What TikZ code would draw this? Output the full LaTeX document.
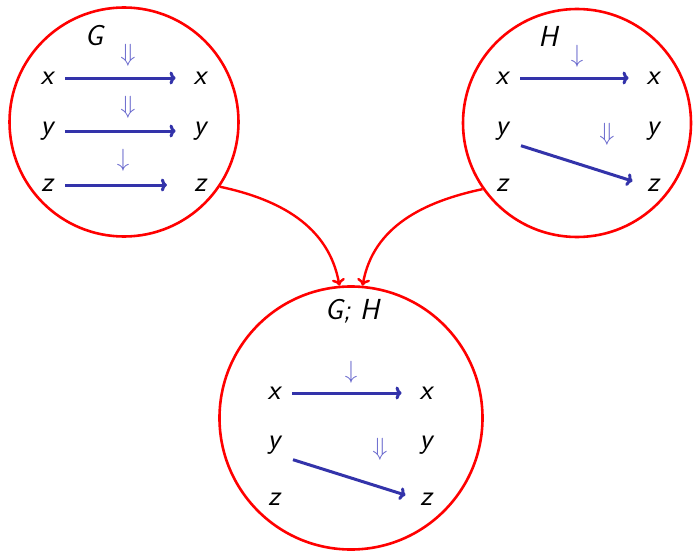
\documentclass[tikz,border=0pt]{standalone}
\usetikzlibrary{arrows.meta}
\definecolor{arrblue}{HTML}{3333AA}
\definecolor{dblue}{HTML}{6666CC}
\tikzset{
  lbl/.style={font=\fontsize{29}{32}\selectfont\sffamily\itshape, inner sep=2pt, anchor=center},
  ttl/.style={font=\fontsize{29}{32}\selectfont\sffamily\itshape, inner sep=2pt},
  bubble/.style={draw=red, circle, line width=2.6pt, inner sep=0pt},
  edge/.style={draw=arrblue, line width=3pt, -{To[length=6pt,width=13pt]}},
  link/.style={draw=red, line width=2.4pt, -{To[length=7pt,width=13pt]}},
  cell/.style={text=dblue, font=\fontsize{35}{38}\selectfont, inner sep=0pt},
}
\begin{document}
\begin{tikzpicture}[x=1pt,y=-1pt]
\useasboundingbox (0,0) rectangle (693,551);
% bubbles
\node[bubble, minimum size=229pt] (g) at (124,122) {};
\node[bubble, minimum size=228pt] (h) at (577,123) {};
\node[bubble, minimum size=263pt] (gh) at (351,418) {};
% G
\node[ttl] (gt) at (94,36) {G};
\node[lbl] (gx1) at (47,78) {x};
\node[lbl] (gx2) at (200,78) {x};
\node[lbl] (gy1) at (47,131) {y};
\node[lbl] (gy2) at (200,131) {y};
\node[lbl] (gz1) at (47,185) {z};
\node[lbl] (gz2) at (200,185) {z};
\draw[edge, shorten <=10pt, shorten >=16pt] (gx1.east) -- (gx2.west);
\draw[edge, shorten <=10pt, shorten >=16pt] (gy1.east) -- (gy2.west);
\draw[edge, shorten <=10pt, shorten >=25pt] (gz1.east) -- (gz2.west);
\node[cell] (gc1) at (128,55) {$\Downarrow$};
\node[cell] (gc2) at (128,107) {$\Downarrow$};
\node[cell] (gc3) at (123,160) {$\downarrow$};
% H
\node[ttl] (ht) at (548,36) {H};
\node[lbl] (hx1) at (502,78) {x};
\node[lbl] (hx2) at (653,78) {x};
\node[lbl] (hy1) at (502,131) {y};
\node[lbl] (hy2) at (653,131) {y};
\node[lbl] (hz1) at (502,185) {z};
\node[lbl] (hz2) at (653,185) {z};
\draw[edge, shorten <=10pt, shorten >=16pt] (hx1.east) -- (hx2.west);
\draw[edge, shorten <=11pt, shorten >=13pt] (hy1.south east) -- (hz2.west);
\node[cell] (hc1) at (577,56) {$\downarrow$};
\node[cell] (hc2) at (607,134) {$\Downarrow$};
% G;H
\node[ttl] (ght) at (352,311) {G; H};
\node[lbl] (kx1) at (274,393) {x};
\node[lbl] (kx2) at (426,393) {x};
\node[lbl] (ky1) at (274,445) {y};
\node[lbl] (ky2) at (426,445) {y};
\node[lbl] (kz1) at (274,499) {z};
\node[lbl] (kz2) at (426,499) {z};
\draw[edge, shorten <=10pt, shorten >=16pt] (kx1.east) -- (kx2.west);
\draw[edge, shorten <=11pt, shorten >=13pt] (ky1.south east) -- (kz2.west);
\node[cell] (kc1) at (351,372) {$\downarrow$};
\node[cell] (kc2) at (380,449) {$\Downarrow$};
% links
\draw[link] (g.-34) to[out=-12, in=100] (gh.95);
\draw[link] (h.215) to[out=192, in=80] (gh.85);
\end{tikzpicture}
\end{document}
